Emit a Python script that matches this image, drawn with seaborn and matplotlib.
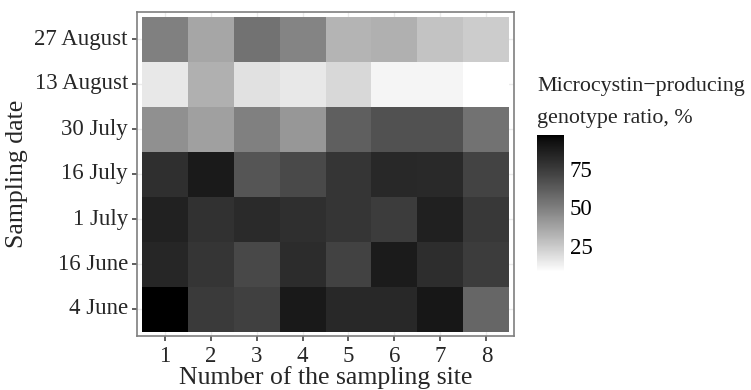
import matplotlib
matplotlib.use("Agg")
import matplotlib.pyplot as plt
from matplotlib.colors import ListedColormap
import numpy as np
import pandas as pd
import seaborn as sns

# Data (rows from top to bottom)
dates = ["27 August", "13 August", "30 July", "16 July", "1 July", "16 June", "4 June"]
sites = [1, 2, 3, 4, 5, 6, 7, 8]

aug27 = [49.3, 36.4, 54.2, 47.9, 31.8, 33.1, 26.9, 24.0]
aug13 = [15.1, 33.1, 17.6, 15.1, 20.2, 11.4, 11.4, 8.0]
jul30 = [44.1, 38.4, 49.3, 41.4, 61.1, 66.3, 66.3, 54.2]
jul16 = [79.7, 88.8, 64.8, 69.4, 77.3, 82.7, 82.2, 71.3]
jul01 = [85.2, 78.9, 81.8, 79.7, 77.3, 74.1, 86.1, 76.1]
jun16 = [83.1, 76.9, 69.8, 81.0, 72.1, 88.3, 80.6, 74.1]
jun04 = [97.0, 75.3, 72.9, 89.2, 82.7, 82.7, 89.7, 58.6]

cbar_ticks = [25, 50, 75]

df = pd.DataFrame([aug27, aug13, jul30, jul16, jul01, jun16, jun04],
                  index=dates, columns=sites)

# white -> black gradient, interpolated on lightness like ggplot does
L = np.linspace(100, 0, 256)
fy = (L + 16) / 116
Y = np.where(L > 8, fy ** 3, L / 903.3)
g = np.where(Y > 0.0031308, 1.055 * Y ** (1 / 2.4) - 0.055, 12.92 * Y)
cmap = ListedColormap(np.column_stack([g, g, g]))

sns.set_theme(style="white")
plt.rcParams["font.family"] = ["Liberation Serif", "DejaVu Serif"]

W, H = 751, 390
fig = plt.figure(figsize=(W / 100, H / 100), dpi=100)
ax = fig.add_axes([137 / W, 1 - 336 / H, (514 - 137) / W, (336 - 12) / H])
cax = fig.add_axes([537 / W, 1 - 272 / H, 27 / W, 137 / H])

sns.heatmap(df, ax=ax, cmap=cmap, vmin=df.values.min(), vmax=df.values.max(),
            cbar_ax=cax, cbar_kws={"ticks": cbar_ticks})

# ggplot-like expansion and theme_bw look
ax.set_xlim(-0.1, len(sites) + 0.1)
ax.set_ylim(len(dates) + 0.1, -0.1)
ax.set_axisbelow(True)
ax.grid(True, color="#ebebeb", linewidth=1)
for s in ax.spines.values():
    s.set_visible(True)
    s.set_color("#7f7f7f")
    s.set_linewidth(1.2)
ax.tick_params(axis="both", which="both", bottom=True, left=True, length=3.5,
               width=1.1, color="#333333", labelsize=16.5)
ax.tick_params(axis="x", pad=4)
ax.tick_params(axis="y", pad=3)
ax.set_yticklabels(dates, rotation=0)
ax.set_xticklabels([str(s) for s in sites], rotation=0)
ax.set_xlabel("Number of the sampling site", fontsize=18.5, labelpad=-1)
ax.set_ylabel("Sampling date", fontsize=18.5, labelpad=5)

# colour bar
cbar = ax.collections[0].colorbar
cbar.outline.set_visible(False)
cax.tick_params(direction="in", left=True, right=True, length=4, width=1,
                color="white", labelcolor="black", labelsize=16.5, pad=4)
fig.text(537 / W, 1 - 86 / H, "Microcystin\u2212producing", fontsize=15.8,
         ha="left", va="center")
fig.text(537 / W, 1 - 118 / H, "genotype ratio, %", fontsize=15.8,
         ha="left", va="center")

fig.savefig("out.png", dpi=100)
